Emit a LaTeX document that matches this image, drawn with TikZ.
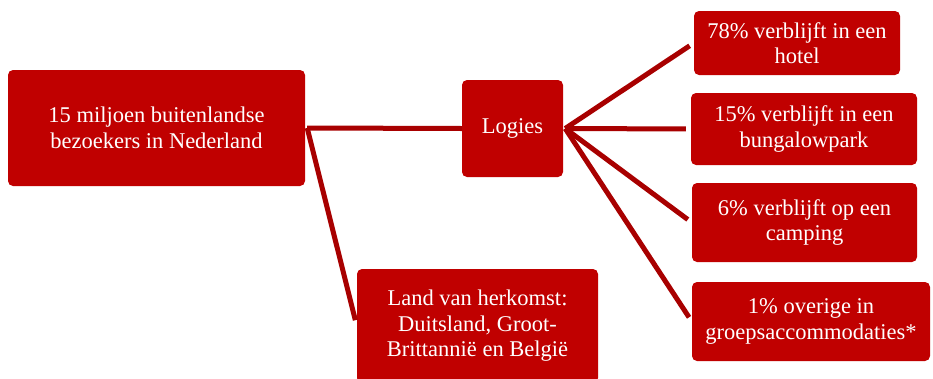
\documentclass[tikz,border=0pt]{standalone}
\usepackage{fontspec}
\setmainfont{Liberation Serif}
\usepackage{tikz}
\definecolor{boxred}{HTML}{C00000}
\definecolor{linered}{HTML}{A80000}

\begin{document}
\begin{tikzpicture}[line cap=butt,line join=round,x=1pt,y=-1pt,
  box/.style={fill=boxred,rounded corners=5pt,text=white,align=center,
    inner sep=0pt,font=\fontsize{22.5}{25.5}\selectfont},
  link/.style={draw=linered,line width=5pt}]
  \useasboundingbox (0,0) rectangle (933,378);
  % boxes
  \node[box,minimum width=297pt,minimum height=116pt] (bezoekers) at (156.5,128)
    {15 miljoen buitenlandse\\bezoekers in Nederland};
  \node[box,minimum width=101pt,minimum height=97pt] (logies) at (512.5,128.5) {Logies};
  \node[box,minimum width=241pt,minimum height=114pt] (herkomst) at (477.5,326)
    {Land van herkomst:\\Duitsland, Groot-\\Brittannië en België};
  \node[box,minimum width=206pt,minimum height=64pt] (hotel) at (797,43)
    {78\% verblijft in een\\hotel};
  \node[box,minimum width=226pt,minimum height=72pt] (bungalow) at (804,129)
    {15\% verblijft in een\\bungalowpark};
  \node[box,minimum width=225pt,minimum height=79pt] (camping) at (804.5,222.5)
    {6\% verblijft op een\\camping};
  \node[box,minimum width=238pt,minimum height=79pt] (groep) at (811,321.5)
    {1\% overige in\\groepsaccommodaties*};
  % connectors
  \draw[link] ([xshift=2pt]bezoekers.east) -- (logies.west);
  \draw[link,shorten >=6pt] ([xshift=2pt]bezoekers.east) -- (herkomst.west);
  \foreach \n in {hotel,bungalow,camping,groep}
    \draw[link,shorten >=5pt] ([xshift=2pt]logies.east) -- (\n.west);
\end{tikzpicture}
\end{document}
